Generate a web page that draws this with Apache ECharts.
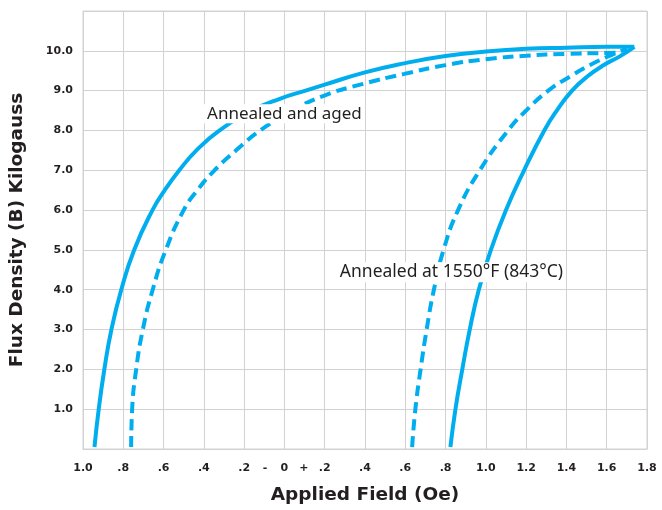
<!DOCTYPE html>
<html>
<head>
<meta charset="utf-8">
<script src="https://cdn.jsdelivr.net/npm/echarts@6/dist/echarts.min.js"></script>
<style>
html,body{margin:0;padding:0;background:#fff;}
#c{width:662px;height:510px;}
</style>
</head>
<body>
<div id="c"></div>
<script>
// ---- Data (Applied Field in Oe, Flux Density in kG) ----
// Annealed and aged (solid) – rising branch (left) and return branch (right)
const agedLeftH = [-0.943,-0.922,-0.894,-0.859,-0.810,-0.746,-0.655,-0.594,-0.522,-0.437,-0.322,-0.162,-0.020,0.105,0.200,0.400,0.600,0.800,1.000,1.200,1.400,1.600,1.737];
const agedLeftB = [0.05,1.0,2.0,3.0,4.0,5.0,6.0,6.5,7.0,7.5,8.0,8.5,8.8,9.0,9.15,9.46,9.69,9.87,9.98,10.05,10.08,10.10,10.10];
const agedRightH = [0.824,0.849,0.883,0.920,0.965,1.025,1.100,1.190,1.290,1.352,1.428,1.505,1.588,1.665,1.737];
const agedRightB = [0.05,1.0,2.0,3.0,4.0,5.0,6.0,7.0,8.0,8.5,9.0,9.36,9.65,9.86,10.10];
// Annealed at 1550°F (843°C) (dashed)
const annLeftH = [-0.761,-0.756,-0.736,-0.703,-0.654,-0.589,-0.500,-0.432,-0.347,-0.240,-0.120,0.040,0.195,0.390,0.595,0.800,1.000,1.200,1.400,1.600,1.660];
const annLeftB = [0.05,1.0,2.0,3.0,4.0,5.0,6.0,6.5,7.0,7.5,8.0,8.5,8.87,9.17,9.42,9.64,9.79,9.875,9.925,9.945,9.955];
const annRightH = [0.634,0.650,0.676,0.706,0.742,0.790,0.862,0.970,1.110,1.200,1.310,1.420,1.520,1.625,1.700];
const annRightB = [0.05,1.0,2.0,3.0,4.0,5.0,6.0,7.0,8.0,8.5,9.0,9.36,9.65,9.90,10.05];

// Axis ticks
const xTicks = [-1.0,-0.8,-0.6,-0.4,-0.2,0,0.2,0.4,0.6,0.8,1.0,1.2,1.4,1.6,1.8];
const yTicks = [1,2,3,4,5,6,7,8,9,10];

// Text
const xTitle = 'Applied Field (Oe)';
const yTitle = 'Flux Density (B) Kilogauss';
const note1 = 'Annealed and aged';
const note2 = 'Annealed at 1550°F (843°C)';
const note1At = [0.0, 8.42];
const note2At = [0.829, 4.44];

const zip = (a, b) => a.map((v, i) => [v, b[i]]);
const BLUE = '#00aeef';
const GRID = '#d2d2d2';
const TXT = '#231f20';

const chart = echarts.init(document.getElementById('c'));

function xLabel(v) {
  const r = Math.round(v * 10) / 10;
  if (r === 0) return '{m|-}{z|0}{p|+}';
  const a = Math.abs(r);
  return a < 1 ? '.' + Math.round(a * 10) : a.toFixed(1);
}

const mkSeries = (name, data, dashed) => ({
  name, type: 'line', data, symbol: 'none', smooth: 0.5,
  lineStyle: { color: BLUE, width: 4, type: dashed ? [11, 6] : 'solid', cap: 'butt' },
  z: 3, silent: true, animation: false
});

const lblFont = { fontFamily: 'DejaVu Sans', fontWeight: 'bold', fontSize: 11, color: TXT };

chart.setOption({
  animation: false,
  backgroundColor: '#fff',
  grid: { left: 83, right: 15, top: 11, bottom: 59, show: true, borderColor: GRID, borderWidth: 1 },
  xAxis: {
    type: 'value', min: xTicks[0], max: xTicks[xTicks.length - 1], interval: 0.2,
    name: xTitle, nameLocation: 'middle', nameGap: 37,
    nameTextStyle: { fontFamily: 'DejaVu Sans', fontWeight: 'bold', fontSize: 18.5, color: TXT },
    axisLine: { show: true, lineStyle: { color: GRID, width: 1 } },
    axisTick: { show: false },
    splitLine: { show: true, lineStyle: { color: GRID, width: 1 } },
    axisLabel: Object.assign({
      formatter: xLabel, margin: 14,
      rich: {
        m: Object.assign({ width: 19, align: 'center' }, lblFont),
        z: Object.assign({ width: 20, align: 'center' }, lblFont),
        p: Object.assign({ width: 19, align: 'center' }, lblFont)
      }
    }, lblFont)
  },
  yAxis: {
    type: 'value', min: 0, max: 11, interval: 1,
    name: yTitle, nameLocation: 'middle', nameGap: 56, nameRotate: 90,
    nameTextStyle: { fontFamily: 'DejaVu Sans', fontWeight: 'bold', fontSize: 18.5, color: TXT },
    axisLine: { show: true, lineStyle: { color: GRID, width: 1 } },
    axisTick: { show: false },
    splitLine: { show: true, lineStyle: { color: GRID, width: 1 } },
    axisLabel: Object.assign({
      margin: 10,
      formatter: v => (yTicks.indexOf(Math.round(v)) >= 0 ? v.toFixed(1) : '')
    }, lblFont)
  },
  series: [
    mkSeries('Annealed and aged', zip(agedLeftH, agedLeftB), false),
    mkSeries('Annealed and aged (return)', zip(agedRightH, agedRightB), false),
    mkSeries('Annealed at 1550°F', zip(annLeftH, annLeftB), true),
    mkSeries('Annealed at 1550°F (return)', zip(annRightH, annRightB), true)
  ]
});

const p1 = chart.convertToPixel({ gridIndex: 0 }, note1At);
const p2 = chart.convertToPixel({ gridIndex: 0 }, note2At);
const noteStyle = (text, p, size) => ({
  type: 'text', x: p[0], y: p[1], z: 100,
  style: {
    text, align: 'center', verticalAlign: 'middle',
    fontFamily: 'Noto Sans', fontSize: size, fill: TXT,
    backgroundColor: '#fff', padding: [1, 3]
  }
});
chart.setOption({ graphic: [noteStyle(note1, p1, 17), noteStyle(note2, p2, 17.5)] });
</script>
</body>
</html>
